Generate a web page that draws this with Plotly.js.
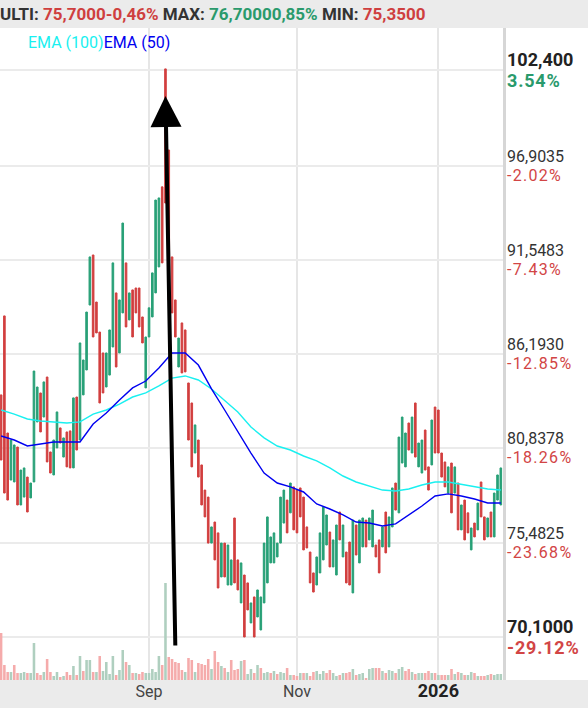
<!DOCTYPE html>
<html><head><meta charset="utf-8">
<script src="https://cdn.plot.ly/plotly-3.0.1.min.js"></script>
<style>html,body{margin:0;padding:0;background:#fff}#chart{width:588px;height:708px}</style>
</head><body><div id="chart"></div>
<script>
// ---- data ----
const firstSession = '2025-06-30';   // sessions are consecutive weekdays from here
const opens = [
 83.89,88.39,81.72,79.04,78.93,80.92,77.62,78.07,79.21,78.02,
 78.93,82.35,84.00,82.63,84.91,80.64,79.33,80.87,82.01,80.35,
 81.78,81.84,79.73,83.77,81.32,83.89,85.31,89.01,91.86,89.18,
 87.47,86.28,84.34,85.02,86.62,89.70,86.28,88.56,91.41,88.16,
 89.87,89.98,89.98,88.33,84.29,87.19,88.33,89.70,91.18,95.74,
 102.46,97.84,91.75,89.30,85.48,87.99,87.59,84.57,83.43,80.58,
 81.32,79.90,78.47,78.07,75.45,76.65,76.03,73.52,75.45,73.06,
 73.06,76.88,74.49,72.04,73.63,73.18,70.90,72.38,71.24,70.50,
 72.04,73.18,74.32,74.32,74.66,75.45,76.59,77.90,77.17,78.65,
 78.47,78.59,78.07,76.37,74.94,73.75,73.06,73.75,74.49,75.34,
 76.08,74.09,73.63,77.22,74.66,74.94,75.51,72.61,76.48,74.32,
 75.23,76.76,75.63,75.23,75.34,75.63,75.23,77.22,75.23,76.37,
 78.87,77.17,80.01,79.79,82.29,80.58,83.43,79.79,79.44,81.89,
 79.79,79.90,83.20,83.03,80.58,80.07,78.30,80.01,78.30,78.87,
 76.20,77.90,77.17,75.06,76.59,76.20,78.93,76.94,75.80,77.22,
 75.80,77.90,77.62];
const closes = [
 80.18,78.30,77.90,81.32,81.04,77.62,79.61,79.73,77.22,78.87,
 85.25,84.34,81.78,84.63,80.07,79.44,81.32,82.92,81.15,81.44,
 79.79,79.73,83.72,80.75,86.85,85.88,88.61,91.75,87.19,87.42,
 83.43,84.00,86.28,87.59,91.41,85.48,89.30,93.68,87.76,89.70,
 87.19,88.56,87.76,86.85,87.19,88.85,90.84,94.99,95.11,91.41,
 94.82,89.30,88.56,87.19,87.13,85.14,85.20,81.32,79.79,82.18,
 79.21,77.62,76.94,75.45,76.37,74.49,72.89,75.45,73.52,75.34,
 74.49,73.18,72.78,74.32,70.10,71.64,72.04,70.10,72.78,72.38,
 75.45,76.94,75.80,76.03,75.45,78.07,78.47,76.03,78.87,76.20,
 76.03,76.94,75.06,75.17,73.18,72.66,74.66,76.03,77.50,77.05,
 74.09,75.63,76.48,75.63,76.48,73.18,73.06,76.76,74.77,76.76,
 76.88,75.23,76.88,77.33,74.66,73.75,76.37,74.89,76.94,78.59,
 77.33,81.49,82.63,81.72,80.75,82.63,80.35,81.15,81.32,79.61,
 78.47,82.46,80.58,80.58,79.21,78.65,79.79,77.17,79.79,76.20,
 77.62,75.63,76.03,76.31,75.80,77.73,76.94,75.63,76.88,75.80,
 78.30,79.33,79.73];
const volumes = [
 470,150,80,80,150,70,70,80,70,70,
 370,70,50,80,210,80,40,80,30,40,
 80,50,140,50,240,90,200,200,80,80,
 240,90,180,60,240,50,100,300,180,150,
 70,70,60,80,70,70,110,80,240,150,
 970,230,210,180,170,100,80,220,200,80,
 170,160,150,210,110,290,180,140,120,80,
 200,100,110,190,200,60,110,70,150,120,
 70,80,70,90,60,80,70,120,50,50,
 40,70,70,70,40,80,90,60,90,70,
 100,70,40,50,70,70,80,110,50,60,
 70,20,110,120,120,120,90,70,100,90,
 70,110,130,90,110,80,60,70,70,70,
 90,70,70,50,50,50,50,110,60,80,
 70,50,50,80,70,40,40,40,50,60,
 50,60,60];
const emaStep = 4;   // one EMA reading every 4 sessions
const ema100 = [83.03,82.80,82.52,82.40,82.35,82.29,82.35,82.80,83.03,83.37,
 83.77,84.00,84.40,84.85,84.97,84.74,84.23,83.60,82.92,82.06,
 81.44,80.98,80.75,80.41,80.13,79.73,79.27,78.93,78.70,78.47,
 78.42,78.53,78.76,78.93,78.93,78.81,78.65,78.53,78.47];
const ema50 = [81.55,81.32,80.98,81.09,81.21,81.21,81.21,82.23,82.86,83.60,
 84.29,84.68,85.42,86.28,86.28,85.59,84.23,83.03,81.78,80.58,
 79.44,78.87,78.65,78.36,77.68,77.39,77.05,76.65,76.59,76.42,
 76.54,77.05,77.56,78.13,78.25,78.13,77.96,77.73,77.73];
const priceTicks = [102.4, 96.9035, 91.5483, 86.1930, 80.8378, 75.4825, 70.1];
const priceTickText = ['102,400','96,9035','91,5483','86,1930','80,8378','75,4825','70,1000'];
const pctTickText = ['3.54%','-2.02%','-7.43%','-12.85%','-18.26%','-23.68%','-29.12%'];
const xTickDates = ['2025-09-01','2025-11-03','2026-01-01'];
const xTickText = ['Sep','Nov','<b><span style="font-size:18px;color:#222">2026</span></b>'];
const headerText = 'ULTI: <span style="color:#cf3f3f">75,7000-0,46%</span> MAX: <span style="color:#2a9a6c">76,70000,85%</span> MIN: <span style="color:#cf3f3f">75,3500</span>';
const arrowTip = {session: 50, price: 100.92};
const arrowTail = {session: 53, price: 69.53};

// ---- build ----
const GREEN = '#28a077', RED = '#d23f3f', VGREEN = '#afcfbf', VRED = '#f5abab';
function sessions(start, n) {
  const out = []; const p = start.split('-').map(Number);
  let d = new Date(Date.UTC(p[0], p[1]-1, p[2]));
  while (out.length < n) {
    const wd = d.getUTCDay();
    if (wd !== 0 && wd !== 6) out.push(d.toISOString().slice(0,10));
    d = new Date(d.getTime() + 86400000);
  }
  return out;
}
const dates = sessions(firstSession, opens.length);
const highs = opens.map((o,i)=>Math.max(o, closes[i]));
const lows = opens.map((o,i)=>Math.min(o, closes[i]));
const volColors = closes.map((c,i)=> (i===0 ? c>=opens[0] : c>=closes[i-1]) ? VGREEN : VRED);
const emaDates = ema100.map((_,k)=>dates[Math.min(k*emaStep, dates.length-1)]);

const traces = [
  {type:'candlestick', x:dates, open:opens, high:highs, low:lows, close:closes,
   increasing:{line:{color:GREEN, width:1}, fillcolor:GREEN},
   decreasing:{line:{color:RED, width:1}, fillcolor:RED},
   whiskerwidth:0, hoverinfo:'skip', xaxis:'x', yaxis:'y'},
  {type:'scatter', mode:'lines', x:emaDates, y:ema100, line:{color:'#19f0f0', width:1.4}, xaxis:'x', yaxis:'y', hoverinfo:'skip'},
  {type:'scatter', mode:'lines', x:emaDates, y:ema50, line:{color:'#0000f0', width:1.4}, xaxis:'x', yaxis:'y', hoverinfo:'skip'},
  {type:'bar', x:dates, y:volumes, marker:{color:volColors, line:{width:0}}, xaxis:'x', yaxis:'y2', hoverinfo:'skip'}
];

const PH = 652;
const annotations = [];
priceTicks.forEach((v,i)=>{
  const edge = (i===0 || i===priceTicks.length-1);
  annotations.push({xref:'paper', yref:'y', x:1, y:v, xanchor:'left', yanchor:'bottom', xshift:2, yshift:-2,
    text: edge ? '<b>'+priceTickText[i]+'</b>' : priceTickText[i], showarrow:false,
    font:{family:'Roboto', size: edge?18:16, color: edge?'#222':'#333'}});
  annotations.push({xref:'paper', yref:'y', x:1, y:v, xanchor:'left', yanchor:'top', xshift:2, yshift:2,
    text: '<span style="letter-spacing:' + (edge?'0.8px':'1.3px') + '">' + (edge ? '<b>'+pctTickText[i]+'</b>' : pctTickText[i]) + '</span>',
    showarrow:false,
    font:{family:'Roboto', size: edge?18:16, color: pctTickText[i][0]==='-' ? '#d24545' : '#2a9a6c'}});
});
annotations.push({xref:'paper', yref:'paper', x:0, y:1+14/PH, xanchor:'left', yanchor:'middle', xshift:-2,
  text:'<b>'+headerText+'</b>', showarrow:false, font:{family:'Roboto', size:17, color:'#333'}});
annotations.push({xref:'paper', yref:'paper', x:26/503, y:1-15/PH, xanchor:'left', yanchor:'middle',
  text:'<span style="color:#19f0f0">EMA (100)</span><span style="color:#0000f0">EMA (50)</span>', showarrow:false,
  font:{family:'Roboto', size:16}});
annotations.push({xref:'x', yref:'y', x:dates[arrowTip.session], y:arrowTip.price,
  axref:'x', ayref:'y', ax:dates[arrowTail.session], ay:arrowTail.price,
  text:'', showarrow:true, arrowhead:2, arrowsize:1.55, arrowwidth:4, arrowcolor:'#000', standoff:0});

const layout = {
  width:588, height:708, margin:{l:0, r:85, t:28, b:28},
  paper_bgcolor:'#ffffff', plot_bgcolor:'#ffffff', showlegend:false, bargap:0.22,
  font:{family:'Roboto'},
  xaxis:{type:'date', range:['2025-06-27 16:00','2026-01-28 16:00'], rangebreaks:[{bounds:['sat','mon']}],
    tickmode:'array', tickvals:xTickDates, ticktext:xTickText, tickfont:{family:'Roboto', size:16, color:'#444'},
    showgrid:true, gridcolor:'#e6e6e6', gridwidth:2, ticks:'', showline:false, zeroline:false,
    rangeslider:{visible:false}, fixedrange:true},
  yaxis:{range:[67.65,104.79], side:'right', tickmode:'array', tickvals:priceTicks, showticklabels:false,
    showgrid:true, gridcolor:'#ebebeb', gridwidth:2, showline:true, linecolor:'#d6d6d6', linewidth:3,
    zeroline:false, ticks:'', fixedrange:true},
  yaxis2:{overlaying:'y', range:[0,6520], side:'left', showgrid:false, showticklabels:false,
    showline:true, linecolor:'#e8e8e8', linewidth:2, zeroline:false, ticks:'', fixedrange:true},
  shapes:[
    {type:'rect', xref:'paper', yref:'paper', x0:-0.01, x1:1.2, y0:1, y1:1.06, fillcolor:'#ebebeb', line:{width:0}, layer:'below'},
    {type:'rect', xref:'paper', yref:'paper', x0:-0.01, x1:1.2, y0:-0.06, y1:0, fillcolor:'#ebebeb', line:{width:0}, layer:'below'}
  ],
  annotations: annotations
};
Plotly.newPlot('chart', traces, layout, {displayModeBar:false, staticPlot:true});
</script>
</body></html>
